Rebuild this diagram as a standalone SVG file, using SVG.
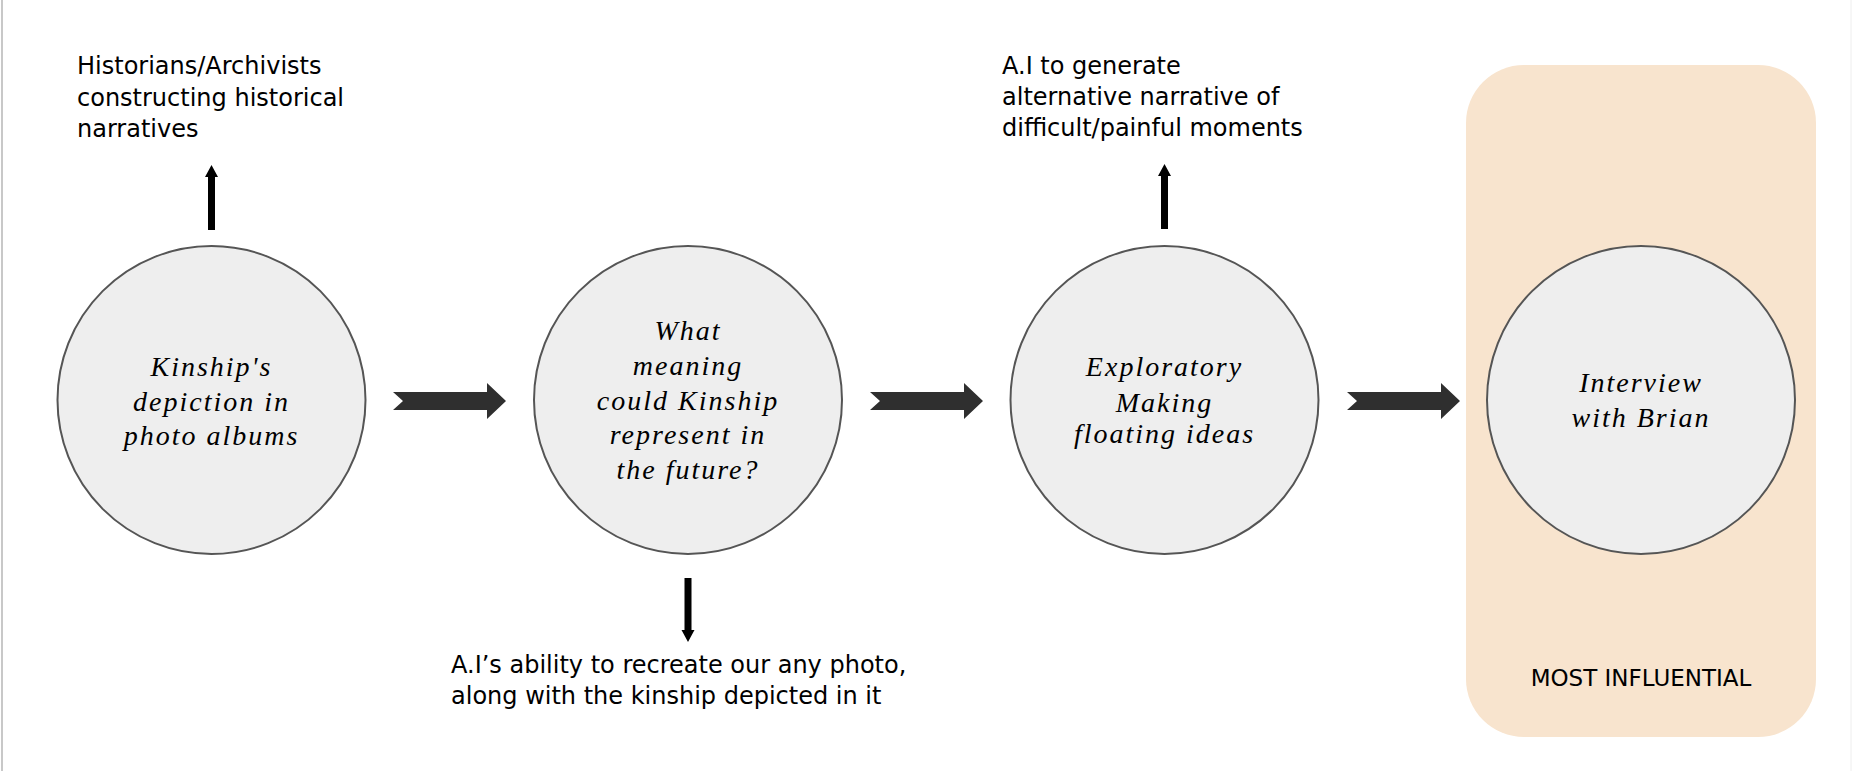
<svg xmlns="http://www.w3.org/2000/svg" width="1852" height="771" viewBox="0 0 1852 771">
<defs>
<style>
.lbl{font-family:"DejaVu Sans","Liberation Sans",sans-serif;font-size:24px;fill:#000}
.hand{font-family:"Liberation Serif","DejaVu Serif",serif;font-style:italic;font-size:28px;letter-spacing:2px;fill:#000;text-anchor:middle}
.node{fill:#eeeeee;stroke:#555555;stroke-width:2}
.chev{fill:#2f2f2f}
.vert{fill:#000}
</style>
</defs>
<rect x="0" y="0" width="1852" height="771" fill="#ffffff"/>
<line x1="2" y1="0" x2="2" y2="771" stroke="#c8c8c8" stroke-width="2"/>
<line x1="1851" y1="0" x2="1851" y2="771" stroke="#eeeeee" stroke-width="1"/>
<g id="group-influential">
<rect x="1466" y="65" width="350" height="672" rx="58" ry="58" fill="#f8e4ce"/>
<text class="lbl" x="1641" y="686" text-anchor="middle" style="font-size:23px">MOST INFLUENTIAL</text>
</g>
<g id="connectors">
<polygon class="chev" points="393,392 487,392 487,383 506,401 487,419 487,410 393,410 403,401"/>
<polygon class="chev" points="870,392 964,392 964,383 983,401 964,419 964,410 870,410 880,401"/>
<polygon class="chev" points="1347,392 1441,392 1441,383 1460,401 1441,419 1441,410 1347,410 1357,401"/>
<polygon class="vert" points="208,230 215,230 215,177 218,177 211.5,165 205,177 208,177"/>
<polygon class="vert" points="1161,229 1168,229 1168,176 1171,176 1164.5,164 1158,176 1161,176"/>
<polygon class="vert" points="684.5,578 691.5,578 691.5,630 694.5,630 688,642 681.5,630 684.5,630"/>
</g>
<g id="node-kinship">
<circle class="node" cx="211.5" cy="400" r="154"/>
<text class="hand" x="211.5" y="376">Kinship's</text>
<text class="hand" x="211.5" y="411">depiction in</text>
<text class="hand" x="211.5" y="445">photo albums</text>
</g>
<g id="node-meaning">
<circle class="node" cx="688" cy="400" r="154"/>
<text class="hand" x="688" y="340">What</text>
<text class="hand" x="688" y="375">meaning</text>
<text class="hand" x="688" y="410">could Kinship</text>
<text class="hand" x="688" y="444">represent in</text>
<text class="hand" x="688" y="479">the future?</text>
</g>
<g id="node-exploratory">
<circle class="node" cx="1164.5" cy="400" r="154"/>
<text class="hand" x="1164.5" y="376">Exploratory</text>
<text class="hand" x="1164.5" y="412">Making</text>
<text class="hand" x="1164.5" y="443">floating ideas</text>
</g>
<g id="node-interview">
<circle class="node" cx="1641" cy="400" r="154"/>
<text class="hand" x="1641" y="392">Interview</text>
<text class="hand" x="1641" y="427">with Brian</text>
</g>
<g id="note-historians">
<text class="lbl" x="77" y="74">Historians/Archivists</text>
<text class="lbl" x="77" y="106">constructing historical</text>
<text class="lbl" x="77" y="137">narratives</text>
</g>
<g id="note-ai-generate">
<text class="lbl" x="1002" y="74">A.I to generate</text>
<text class="lbl" x="1002" y="105">alternative narrative of</text>
<text class="lbl" x="1002" y="136">difficult/painful moments</text>
</g>
<g id="note-ai-recreate">
<text class="lbl" x="451" y="673">A.I’s ability to recreate our any photo,</text>
<text class="lbl" x="451" y="704">along with the kinship depicted in it</text>
</g>
</svg>
